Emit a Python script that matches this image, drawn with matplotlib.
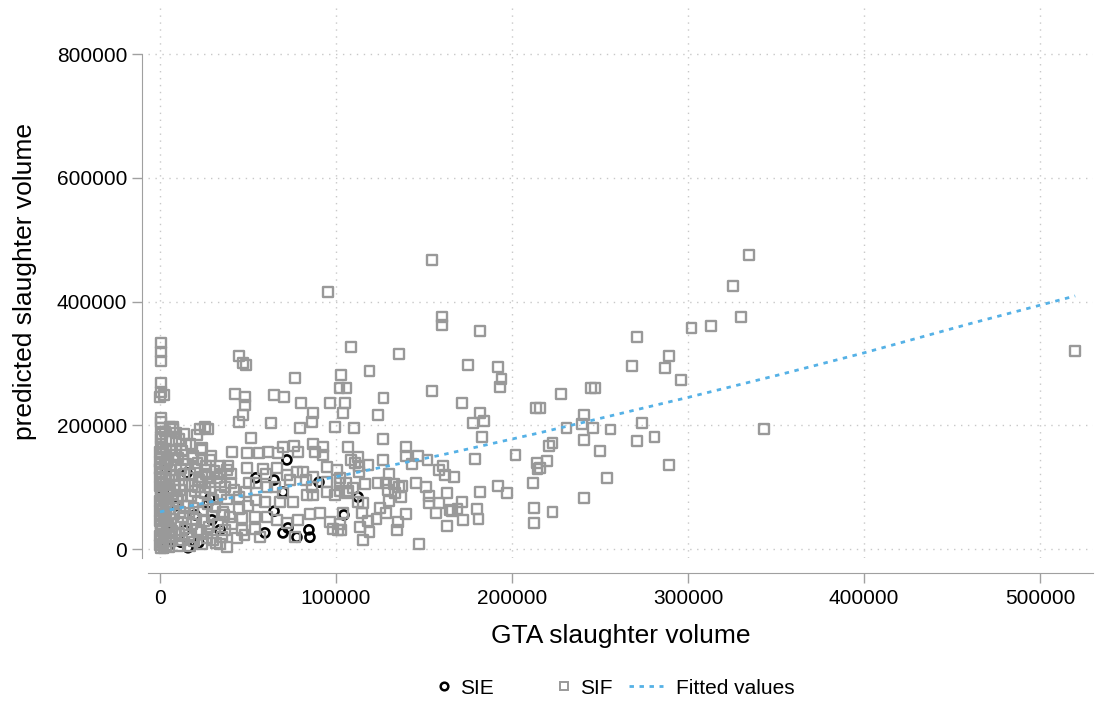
import matplotlib.pyplot as plt
from matplotlib.lines import Line2D

plt.rcParams['font.family'] = ['Liberation Sans', 'DejaVu Sans']

# SIE establishments: GTA volume vs predicted volume
sie_x = [72100, 54500, 64800, 69900, 90300, 28400, 27300, 15300, 104500, 112500,
         59600, 69900, 72700, 77800, 84600, 85200, 34100, 4000, 15900, 11900,
         29500, 64800, 5000, 9000, 2000, 14000, 20000, 7000, 22000, 3000]
sie_y = [144000, 115000, 111500, 92000, 108000, 82000, 74000, 123000, 55000, 84000,
         26000, 26000, 34000, 19000, 31000, 19000, 31000, 2000, 2000, 11000,
         47000, 61000, 40000, 70000, 90000, 30000, 55000, 15000, 10000, 130000]

# SIF establishments
sif_x = [
    # large plants
    334600, 325500, 330000, 302000, 313000, 271000, 289000, 268000, 287000, 296000,
    228000, 245000, 247000, 216000, 241000, 240000, 231000, 246000, 256000, 274000,
    221000, 223000, 241000, 271000, 281000, 250000, 220000, 216000, 289000, 254000,
    241000, 223000, 343000, 520000, 154500, 95500,
    # mid-sized plants
    160000, 160000, 182000, 108500, 136000, 119000, 175000, 192000, 194000, 193000,
    103000, 102000, 106000, 154500, 127000, 105000, 104000, 124000, 171500, 182000,
    184000, 178000, 110000, 183000, 126500, 213500, 107000, 140000, 140000, 146500,
    152000, 126500, 179000, 202000, 214000, 214500, 108500, 111000, 112500, 113000,
    113000, 118000, 143000, 158500, 161000, 162000, 167000, 130000, 102000, 105500,
    116500, 124000, 128500, 133000, 137500, 145500, 151000, 192000, 197000, 212000,
    182000, 163000, 153000, 153000, 158500, 102000, 107000, 112500, 115500, 129500,
    133500, 136000, 137000, 130000, 171500, 169000, 165000, 166000, 180000, 181000,
    212500, 212500, 157000, 172000, 163000, 147000, 125000, 128500, 123000, 140000,
    135000, 134500, 115000, 118000, 113500, 119000, 115500, 104000, 103000,
    # small plants
    600, 600, 600, 600, 600, 0, 2300, 600, 600, 600,
    600, 5700, 7400, 22700, 25600, 27300, 45000, 49000, 47000, 42600,
    48300, 48300, 47000, 45000, 76700, 65000, 70500, 80000, 63000, 79500,
    87000, 86500, 96500, 99500, 51700, 23900, 13000, 18800, 23900, 28400,
    40900, 49400, 56200, 61400, 67000, 69900, 76100, 78400, 86900, 92600,
    92600, 88000, 34100, 38600, 34100, 40300, 34100, 40300, 26100, 28400,
    23900, 21600, 25600, 49400, 58500, 60200, 66500, 72100, 77800, 81200,
    82900, 73800, 86900, 94900, 100500, 102300, 94900, 50600, 54500, 48900,
    44900, 54500, 60800, 65300, 69900, 59600, 68200, 75600, 86400, 86900,
    83500, 94900, 99400, 106200, 109600, 39800, 46600, 54000, 60800, 66500,
    72100, 78400, 36900, 46600, 54000, 43700, 34100, 56800, 76700, 85200,
    90900, 98300, 96600, 102300, 101100, 45000, 38000, 42000, 50000, 36000,
    41000, 48000, 30000, 38000, 27000,
    # very small plants
    500, 1500, 800, 2500, 1000, 300, 2000, 700, 1500, 400,
    2200, 900, 300, 1800, 600, 1200, 200, 2600, 800, 400,
    1500, 900, 300, 1100, 600, 2000,
    100, 400, 200, 700, 300, 100, 500, 200, 400, 100,
    300, 600, 200, 400, 100, 500, 300, 200, 700, 100,
    3500, 3200, 3800, 3000, 3600, 3300, 3900, 3100, 3400, 3700,
    3200, 3500, 3000, 3800, 3300, 3600,
    5000, 6500, 5500, 7000, 4800, 6200, 8000, 5200, 7500, 4600,
    6800, 5400, 8200, 4900, 7000, 5600, 6300, 4700, 8500, 5800,
    6600, 9000, 7600,
    10500, 12500, 11000, 14000, 10000, 13000, 11500, 14500, 10200, 12800,
    11200, 14200, 10800, 13500, 11700, 14800, 10400, 12300, 15000, 11000,
    13800, 9000, 9500, 8800, 9300,
    17000, 19500, 16500, 21000, 18000, 20500, 16800, 19000, 21500, 17500,
    20000, 18300, 22000, 16900, 19700, 21300, 18600, 23500, 17300, 20800,
    24000, 26500, 23500, 28000, 25000, 29500, 24500, 27000, 30000, 25800,
    28500, 23800, 27500, 31000, 26000, 29000,
    32000, 35000, 33000, 36500, 31500, 34500, 37000, 32500, 38000,
]
sif_y = [
    475000, 425000, 375000, 357000, 360000, 343000, 312000, 296000, 292000, 273000,
    250000, 260000, 260000, 228000, 216000, 202000, 196000, 195000, 193000, 204000,
    167000, 171000, 176000, 175000, 181000, 158000, 142000, 131000, 136000, 115000,
    82000, 60000, 194000, 320000, 467000, 415000,
    362000, 375000, 352000, 326000, 315000, 288000, 297000, 294000, 275000, 262000,
    281000, 260000, 260000, 255000, 244000, 236000, 220000, 216000, 236000, 220000,
    207000, 203000, 196000, 181000, 178000, 228000, 165000, 165000, 150000, 150000,
    144000, 144000, 145000, 152000, 139000, 129000, 144000, 139000, 149000, 134000,
    124000, 136000, 137000, 128000, 134000, 120000, 116000, 121000, 107000, 107000,
    105000, 107000, 107000, 105000, 102000, 107000, 100000, 102000, 90000, 107000,
    92000, 90000, 86000, 74000, 74000, 94000, 94000, 76000, 74000, 95000,
    90000, 100000, 84000, 78000, 76000, 65000, 63000, 61000, 65000, 48000,
    66000, 42000, 58000, 47000, 37000, 8000, 66000, 58000, 48000, 57000,
    44000, 31000, 58000, 45000, 36000, 27000, 15000, 58000, 31000,
    333000, 318000, 304000, 268000, 254000, 246000, 249000, 212000, 196000, 181000,
    165000, 197000, 194000, 194000, 197000, 194000, 312000, 297000, 300000, 250000,
    246000, 233000, 216000, 205000, 276000, 249000, 246000, 236000, 203000, 196000,
    220000, 205000, 236000, 197000, 179000, 163000, 144000, 147000, 144000, 144000,
    157000, 155000, 155000, 157000, 155000, 165000, 166000, 157000, 170000, 165000,
    152000, 157000, 134000, 134000, 121000, 121000, 108000, 107000, 121000, 108000,
    116000, 100000, 100000, 131000, 129000, 121000, 131000, 120000, 124000, 124000,
    111500, 111500, 116000, 132500, 128000, 115000, 108000, 107000, 107000, 92000,
    84000, 79000, 100000, 100000, 90500, 76000, 76000, 76000, 100000, 87000,
    87000, 92000, 87000, 90500, 98500, 52000, 50000, 52000, 52000, 47000,
    42000, 47000, 31000, 31000, 32000, 18000, 8000, 19000, 19000, 56500,
    58000, 32000, 44000, 40000, 31000, 65000, 80000, 95000, 70000, 60000,
    40000, 22000, 15000, 3000, 25000,
    2000, 9000, 17000, 25000, 33000, 41000, 49000, 57000, 65000, 73000,
    81000, 89000, 97000, 105000, 113000, 121000, 129000, 137000, 145000, 153000,
    161000, 170000, 178000, 186000, 205000, 2000,
    6000, 13000, 21000, 29000, 37000, 45000, 53000, 61000, 69000, 77000,
    85000, 93000, 101000, 109000, 117000, 125000, 133000, 141000, 149000, 157000,
    5000, 20000, 35000, 50000, 66000, 82000, 98000, 114000, 130000, 146000,
    162000, 176000, 190000, 140000, 60000, 12000,
    3000, 12000, 21000, 30000, 39000, 48000, 56000, 64000, 72000, 80000,
    88000, 96000, 104000, 112000, 120000, 128000, 136000, 145000, 152000, 160000,
    175000, 188000, 197000,
    5000, 14000, 24000, 33000, 42000, 51000, 60000, 69000, 78000, 86000,
    95000, 103000, 112000, 121000, 130000, 138000, 148000, 158000, 168000, 178000,
    186000, 26000, 82000, 118000, 160000,
    4000, 12000, 22000, 31000, 40000, 49000, 58000, 67000, 76000, 85000,
    94000, 103000, 112000, 121000, 130000, 139000, 150000, 160000, 170000, 184000,
    8000, 17000, 27000, 36000, 45000, 54000, 63000, 72000, 80000, 90000,
    99000, 108000, 117000, 126000, 135000, 150000,
    10000, 20000, 40000, 55000, 68000, 88000, 100000, 115000, 128000,
]

# fitted values (quadratic fit)
fit_x = [0, 54000, 102000, 160000, 216000, 300000, 351000, 400000, 460000, 520000]
fit_y = [60000, 90500, 118000, 152000, 188000, 245000, 281000, 317000, 364000, 409000]

W, H = 1096, 709
fig = plt.figure(figsize=(W / 100, H / 100), dpi=100)
ax = fig.add_axes([148 / W, 1 - 558 / H, 945 / W, 553 / H])

grey = '#999999'
blue = '#55b1e6'
ax.scatter(sie_x, sie_y, s=42, marker='o', facecolors='none', edgecolors='black',
           linewidths=1.9, zorder=3)
ax.scatter(sif_x, sif_y, s=50, marker='s', facecolors='none', edgecolors=grey,
           linewidths=1.7, zorder=4)
ax.plot(fit_x, fit_y, color=blue, linewidth=2, linestyle=(0, (1.6, 2)), zorder=5)

ax.set_xlim(-6818, 530114)
ax.set_ylim(-14545, 879200)
ax.set_xticks([0, 100000, 200000, 300000, 400000, 500000])
ax.set_yticks([0, 200000, 400000, 600000, 800000])
ax.set_xticklabels(['0', '100000', '200000', '300000', '400000', '500000'])
ax.set_yticklabels(['0', '200000', '400000', '600000', '800000'])

ax.grid(True, color='#c8c8c8', linestyle=(0, (1, 4)), linewidth=1)
ax.set_axisbelow(True)

for side in ['top', 'right']:
    ax.spines[side].set_visible(False)
ax.spines['left'].set_position(('outward', 4))
ax.spines['bottom'].set_position(('outward', 11))
ax.spines['left'].set_bounds(-14545, 800000)
ax.spines['left'].set_color('#a0a0a0')
ax.spines['bottom'].set_color('#a0a0a0')
ax.tick_params(axis='both', colors='#a0a0a0', labelcolor='black', length=7,
               width=1, labelsize=15, pad=4)

ax.set_xlabel('GTA slaughter volume', fontsize=19, labelpad=12)
ax.set_ylabel('predicted slaughter volume', fontsize=19, labelpad=14)

# legend keys: markers in one box, the fitted line in another
marker_keys = [
    Line2D([], [], marker='o', linestyle='none', markersize=5.5, markerfacecolor='none',
           markeredgecolor='black', markeredgewidth=1.8, label='SIE'),
    Line2D([], [], marker='s', linestyle='none', markersize=5.5, markerfacecolor='none',
           markeredgecolor=grey, markeredgewidth=1.4, label='SIF'),
]
line_key = [Line2D([], [], color=blue, linewidth=2, linestyle=(0, (1.6, 2)),
                   label='Fitted values')]
leg_y = 1 - 688 / H
fig.legend(handles=marker_keys, loc='center', bbox_to_anchor=(524 / W, leg_y),
           ncol=2, frameon=False, fontsize=15, handlelength=0.8,
           handletextpad=0.35, columnspacing=3.0, borderpad=0, borderaxespad=0)
fig.legend(handles=line_key, loc='center', bbox_to_anchor=(712 / W, leg_y),
           frameon=False, fontsize=15, handlelength=1.6, handletextpad=0.65,
           borderpad=0, borderaxespad=0)

fig.savefig('out.png', dpi=100)
